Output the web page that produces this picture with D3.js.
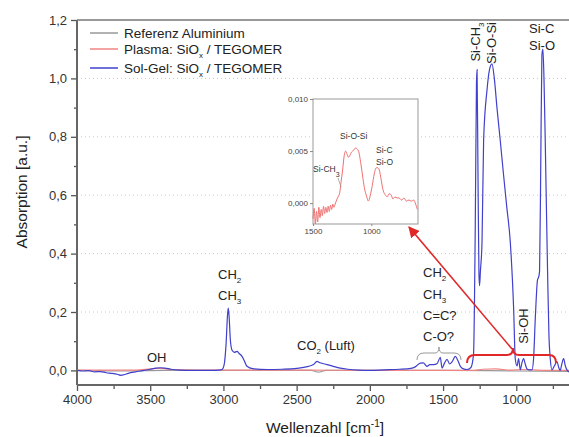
<!DOCTYPE html>
<html>
<head>
<meta charset="utf-8">
<script src="https://cdn.jsdelivr.net/npm/d3@7"></script>
<style>
body { margin: 0; background: #fff; }
svg { font-family: "Liberation Sans", Arial, sans-serif; }
</style>
</head>
<body>
<div id="chart"></div>
<script>
// data
const solGelWn = [4000,3960,3920,3880,3840,3800,3760,3720,3700,3680,3650,3600,3550,3500,3460,3430,3400,3360,3300,3200,3100,3030,3010,2995,2982,2972,2967,2962,2952,2940,2925,2907,2893,2873,2855,2839,2800,2700,2600,2500,2420,2385,2361,2340,2293,2250,2202,2150,2080,2000,1900,1800,1720,1690,1656,1635,1610,1590,1565,1540,1519,1507,1490,1473,1455,1440,1416,1400,1382,1360,1337,1310,1292,1280,1272,1268,1262,1255,1251,1245,1234,1223,1200,1183,1166,1150,1132,1110,1087,1065,1041,1018,1007,995,984,973,962,950,938,927,910,893,882,870,855,847,841,833,825,818,810,802,794,786,777,768,756,740,722,710,700,690,677,665,652,640];
const solGelAbs = [0,-0.002,-0.001,-0.005,-0.004,-0.008,-0.01,-0.014,-0.017,-0.015,-0.01,-0.005,-0.001,0.004,0.008,0.009,0.008,0.004,0.001,0,0,0.001,0.003,0.02,0.09,0.19,0.213,0.19,0.1,0.068,0.062,0.065,0.058,0.048,0.03,0.014,0.006,0.003,0.004,0.007,0.014,0.02,0.031,0.026,0.02,0.014,0.008,0.004,0.001,0,0.002,0.004,0.007,0.012,0.025,0.026,0.014,0.02,0.02,0.024,0.045,0.008,0.025,0.038,0.022,0.028,0.048,0.035,0.014,0.005,0.003,0.01,0.055,0.5,0.98,1.03,0.7,0.33,0.29,0.34,0.44,0.79,0.96,1.03,1.05,1.0,0.9,0.79,0.67,0.56,0.44,0.21,0.04,0.015,0.04,0.002,0.025,0.04,0.02,0.005,0.002,0.002,0.04,0.18,0.31,0.32,0.34,0.7,1.08,1.1,0.98,0.78,0.55,0.33,0.12,0.04,0.002,0.015,0.03,0.01,0,0.02,0.04,0.015,0,-0.005];

const plasmaWn = [4000,3800,3600,3500,3450,3400,3350,3000,2500,2000,1500,1300,1230,1140,1040,960,800,640];
const plasmaAbs = [0.001,0.001,0.001,0.005,0.007,0.006,0.003,0.001,0.001,0,0,0,0.004,0.005,0.001,0.003,0,0];

const refWn = [4000,3700,3400,2400,2370,2350,2330,2300,1500,1000,640];
const refAbs = [0,-0.002,0,0,-0.004,-0.006,-0.004,0,0,-0.002,-0.003];

const insetWn = [1500,1490,1480,1470,1460,1450,1440,1430,1420,1410,1400,1390,1380,1370,1360,1350,1340,1330,1320,1314,1290,1271,1260,1246,1232,1220,1208,1195,1170,1150,1136,1110,1090,1076,1060,1042,1025,1010,992,975,958,945,932,915,898,880,864,848,830,815,797,780,763,740,720,700,678,655,636,620,605];
const insetAbs = [-0.0015,-0.0005,-0.002,-0.0008,-0.0018,-0.0004,-0.0014,-0.0006,-0.0012,-0.0003,-0.001,-0.0004,-0.0009,-0.0003,-0.0008,-0.0002,-0.0006,-0.0001,-0.0004,-0.0002,0.0005,0.001,0.002,0.0032,0.0046,0.005,0.0047,0.0044,0.0049,0.0051,0.0053,0.005,0.0038,0.0027,0.0015,0.0007,0.0002,0.0007,0.0017,0.0028,0.0034,0.0034,0.0032,0.0022,0.0012,0.0008,0.0006,0.0009,0.0008,0.0004,0.0006,0.0005,0.0005,0.0003,0.0005,0.0002,0.0003,0.0002,0.0003,-0.0001,-0.0006];

const xTicks = [4000,3500,3000,2500,2000,1500,1000];
const yTicks = [0,0.2,0.4,0.6,0.8,1.0,1.2];
const insetXTicks = [1500,1000];
const insetYTicks = [0,0.005,0.01];
const seriesNames = ["Referenz Aluminium","Plasma: SiO","Sol-Gel: SiO"];
const seriesColors = ["#999999","#f08585","#4040cc"];

const width = 569;
const height = 437;
const margin = { top: 20, bottom: 52, left: 77, right: 0 };

const svg = d3.select("div#chart").append("svg")
    .attr("width", width).attr("height", height);

const x = d3.scaleLinear().domain([4000, 640]).range([margin.left, width - margin.right]);
const y = d3.scaleLinear().domain([-0.05, 1.2]).range([height - margin.bottom, margin.top]);

const fmt = d => d3.format(".1f")(d).replace(".", ",");

// grid
svg.append("g").selectAll("line").data([0.2,0.4,0.6,0.8,1.0]).join("line")
    .attr("x1", margin.left).attr("x2", width)
    .attr("y1", d => y(d)).attr("y2", d => y(d))
    .attr("stroke", "#c8c8c8").attr("stroke-dasharray", "1,3");

// axes
const yAxisG = svg.append("g").attr("transform", `translate(${margin.left},0)`)
    .call(d3.axisLeft(y).tickValues(yTicks).tickFormat(fmt).tickSize(6).tickPadding(4));
const yMinor = svg.append("g").attr("transform", `translate(${margin.left},0)`)
    .call(d3.axisLeft(y).tickValues([0.1,0.3,0.5,0.7,0.9,1.1]).tickFormat("").tickSize(3));
const xAxisG = svg.append("g").attr("transform", `translate(0,${height - margin.bottom})`)
    .call(d3.axisBottom(x).tickValues(xTicks).tickFormat(d3.format("d")).tickSize(6).tickPadding(4));
const xMinor = svg.append("g").attr("transform", `translate(0,${height - margin.bottom})`)
    .call(d3.axisBottom(x).tickValues([3750,3250,2750,2250,1750,1250,750]).tickFormat("").tickSize(4));

[yAxisG, yMinor, xAxisG, xMinor].forEach(g => {
    g.select(".domain").remove();
    g.selectAll("line").attr("stroke", "#555").attr("stroke-width", 1.3);
    g.selectAll("text").attr("fill", "#333").style("font-size", "13px");
});

// frame lines
svg.append("line").attr("x1", margin.left).attr("x2", margin.left)
    .attr("y1", margin.top).attr("y2", height - margin.bottom)
    .attr("stroke", "#666").attr("stroke-width", 2);
svg.append("line").attr("x1", margin.left).attr("x2", width)
    .attr("y1", height - margin.bottom).attr("y2", height - margin.bottom)
    .attr("stroke", "#666").attr("stroke-width", 2);
svg.append("line").attr("x1", margin.left).attr("x2", width)
    .attr("y1", margin.top).attr("y2", margin.top)
    .attr("stroke", "#777").attr("stroke-width", 1.5);

// axis titles
svg.append("text").attr("transform", "translate(27,192) rotate(-90)")
    .attr("text-anchor", "middle").attr("fill", "#222").style("font-size", "15.5px")
    .text("Absorption [a.u.]");
const xt = svg.append("text").attr("x", 325).attr("y", 433)
    .attr("text-anchor", "middle").attr("fill", "#222").style("font-size", "15.5px");
xt.append("tspan").text("Wellenzahl [cm");
xt.append("tspan").attr("dy", -6).style("font-size", "10px").text("-1");
xt.append("tspan").attr("dy", 6).text("]");

// lines
svg.append("clipPath").attr("id", "clip").append("rect")
    .attr("x", margin.left).attr("y", margin.top)
    .attr("width", width - margin.left).attr("height", height - margin.bottom - margin.top);

const line = d3.line().x(d => x(d[0])).y(d => y(d[1])).curve(d3.curveMonotoneX);
const plot = svg.append("g").attr("clip-path", "url(#clip)");
plot.append("path").datum(d3.zip(refWn, refAbs)).attr("d", line)
    .attr("fill", "none").attr("stroke", seriesColors[0]).attr("stroke-width", 1.2);
plot.append("path").datum(d3.zip(plasmaWn, plasmaAbs)).attr("d", line)
    .attr("fill", "none").attr("stroke", seriesColors[1]).attr("stroke-width", 1.2);
plot.append("path").datum(d3.zip(solGelWn, solGelAbs)).attr("d", line)
    .attr("fill", "none").attr("stroke", seriesColors[2]).attr("stroke-width", 1.2);

// legend
const legend = svg.append("g");
seriesNames.forEach((name, i) => {
    const ly = [33, 49, 68][i];
    legend.append("line").attr("x1", 90).attr("x2", 118).attr("y1", ly).attr("y2", ly)
        .attr("stroke", seriesColors[i]).attr("stroke-width", 1.5);
    const t = legend.append("text").attr("x", 124).attr("y", ly + 5)
        .attr("fill", "#222").style("font-size", "13.5px");
    t.append("tspan").text(name);
    if (i > 0) {
        t.append("tspan").attr("dy", 4).style("font-size", "8px").text("x");
        t.append("tspan").attr("dy", -4).text(" / TEGOMER");
    }
});

// labels
function label(txt, sub, lx, ly, rest) {
    const t = svg.append("text").attr("x", lx).attr("y", ly)
        .attr("fill", "#222").style("font-size", "13px");
    t.append("tspan").text(txt);
    if (sub) {
        t.append("tspan").attr("dy", 4).style("font-size", "8px").text(sub);
        if (rest) t.append("tspan").attr("dy", -4).text(rest);
    }
    return t;
}
label("OH", null, 147, 362);
label("CH", "2", 218, 279);
label("CH", "3", 218, 300);
label("CO", "2", 297, 350, " (Luft)");
label("CH", "2", 423, 277);
label("CH", "3", 423, 299);
label("C=C?", null, 423, 320);
label("C-O?", null, 423, 341);
label("Si-C", null, 529, 33);
label("Si-O", null, 529, 50);

function vlabel(txt, sub, rest, bx, cy) {
    const t = svg.append("text").attr("transform", `translate(${bx},${cy}) rotate(-90)`)
        .attr("text-anchor", "middle").attr("fill", "#222").style("font-size", "13px");
    t.append("tspan").text(txt);
    if (sub) {
        t.append("tspan").attr("dy", 4).style("font-size", "8px").text(sub);
        if (rest) t.append("tspan").attr("dy", -4).text(rest);
    }
}
vlabel("Si-CH", "3", null, 480, 42);
vlabel("Si-O-Si", null, null, 496, 43);
vlabel("Si-OH", null, null, 528, 326);

// grey brace
svg.append("path")
    .attr("d", "M417,360 Q417,353 424,353 L435,353 Q439,353 439,347 Q439,353 443,353 L454,353 Q461,353 461,360")
    .attr("fill", "none").attr("stroke", "#999").attr("stroke-width", 1);

// red brace + arrow
svg.append("defs").append("marker").attr("id", "arr")
    .attr("viewBox", "0 0 10 10").attr("refX", 9).attr("refY", 5)
    .attr("markerWidth", 7).attr("markerHeight", 7).attr("orient", "auto")
    .append("path").attr("d", "M0,0 L10,5 L0,10 z").attr("fill", "#e02828");
svg.append("path")
    .attr("d", "M467,363 Q467,355 475,355 L507,355 Q513,355 513,348 Q513,355 519,355 L549,355 Q556,355 556,363")
    .attr("fill", "none").attr("stroke", "#e02828").attr("stroke-width", 2);
svg.append("line").attr("x1", 512).attr("y1", 349).attr("x2", 409).attr("y2", 227)
    .attr("stroke", "#e02828").attr("stroke-width", 1.6).attr("marker-end", "url(#arr)");

// inset
const ix = d3.scaleLinear().domain([1500, 600]).range([313, 418]);
const iy = d3.scaleLinear().domain([-0.002, 0.01]).range([224, 99]);
const inset = svg.append("g");
inset.append("rect").attr("x", 313).attr("y", 99).attr("width", 105).attr("height", 125)
    .attr("fill", "#fff").attr("stroke", "#999").attr("stroke-width", 1);
const iyAxis = inset.append("g").attr("transform", "translate(313,0)")
    .call(d3.axisLeft(iy).tickValues(insetYTicks).tickFormat(d => d3.format(".3f")(d).replace(".", ",")).tickSize(3).tickPadding(2));
const ixAxis = inset.append("g").attr("transform", "translate(0,224)")
    .call(d3.axisBottom(ix).tickValues(insetXTicks).tickFormat(d3.format("d")).tickSize(2).tickPadding(2));
[iyAxis, ixAxis].forEach(g => {
    g.select(".domain").remove();
    g.selectAll("line").attr("stroke", "#888");
    g.selectAll("text").attr("fill", "#444").style("font-size", "8px");
});
const iline = d3.line().x(d => ix(d[0])).y(d => iy(d[1])).curve(d3.curveMonotoneX);
inset.append("path").datum(d3.zip(insetWn, insetAbs)).attr("d", iline)
    .attr("fill", "none").attr("stroke", "#f07070").attr("stroke-width", 1);

function ilabel(txt, sub, lx, ly) {
    const t = inset.append("text").attr("x", lx).attr("y", ly)
        .attr("fill", "#333").style("font-size", "8.5px");
    t.append("tspan").text(txt);
    if (sub) t.append("tspan").attr("dy", 5).style("font-size", "7px").text(sub);
}
ilabel("Si-O-Si", null, 340, 139);
ilabel("Si-C", null, 376, 153);
ilabel("Si-O", null, 376, 165);
ilabel("Si-CH", "3", 313, 172);
inset.append("line").attr("x1", 338).attr("y1", 178).attr("x2", 341).attr("y2", 187)
    .attr("stroke", "#999").attr("stroke-width", 0.8);
</script>
</body>
</html>
